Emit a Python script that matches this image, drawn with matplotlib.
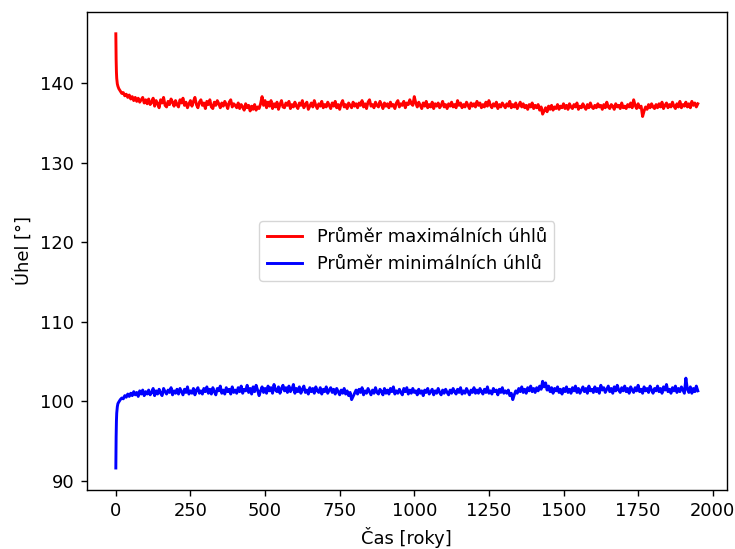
import numpy as np
import matplotlib.pyplot as plt

plt.rcParams["font.size"] = 12.9
plt.rcParams["axes.linewidth"] = 1.0
plt.rcParams["xtick.major.size"] = 4.5
plt.rcParams["ytick.major.size"] = 4.5
plt.rcParams["xtick.major.width"] = 1.0
plt.rcParams["ytick.major.width"] = 1.0
plt.rcParams["xtick.major.pad"] = 4.5
plt.rcParams["ytick.major.pad"] = 4.5
plt.rcParams["axes.labelpad"] = 5.0

# Time axis [years]
t_early = [0, 1, 2, 3, 5, 7]
t_main = list(range(10, 1951, 5))

# Average of maximal angles, one row = 100 years
max_early = [146.2, 143.0, 141.4, 140.6, 139.9, 139.6]
max_main = [
    139.3, 139.0, 138.7, 138.8, 138.4, 138.6, 138.2, 138.5, 138.0, 138.3, 137.8, 138.2, 137.7, 138.1, 137.6, 137.9, 138.2, 137.5, 137.9, 137.4,
    138.0, 137.3, 137.6, 138.1, 137.1, 137.8, 137.4, 136.9, 137.9, 137.5, 138.2, 137.2, 137.0, 137.7, 137.3, 138.0, 137.6, 137.1, 137.8, 137.3,
    137.0, 137.9, 137.5, 138.1, 137.2, 137.6, 136.9, 137.4, 137.8, 137.1, 137.7, 138.2, 137.3, 136.9, 137.6, 137.9, 137.2, 137.5, 136.8, 137.7,
    137.3, 137.9, 137.0, 136.8, 137.6, 137.2, 137.8, 137.4, 136.9, 137.5, 137.1, 137.7, 137.3, 136.8, 137.6, 137.9, 137.0, 137.4, 137.2, 136.9,
    137.5, 136.8, 137.3, 137.0, 136.6, 137.4, 136.9, 137.2, 136.5, 137.1, 136.7, 137.3, 136.6, 137.0, 136.8, 137.4, 138.3, 137.2, 137.8, 136.9,
    137.6, 137.1, 137.8, 136.8, 137.4, 137.0, 137.6, 136.7, 137.3, 137.8, 137.0, 136.9, 137.5, 137.2, 137.7, 136.8, 137.3, 137.0, 137.6, 137.1,
    136.8, 137.5, 137.2, 137.8, 136.9, 137.3, 137.6, 136.7, 137.1, 137.5, 137.0, 137.8, 137.2, 136.8, 137.4, 137.1, 137.7, 136.9, 137.3, 137.0,
    137.6, 137.2, 136.8, 137.5, 137.1, 137.7, 136.9, 137.3, 136.7, 137.4, 137.8, 137.0, 137.3, 136.8, 137.5, 137.2, 136.9, 137.6, 137.1, 137.4,
    136.9, 137.5, 137.2, 137.8, 137.0, 137.4, 136.8, 137.6, 137.9, 137.1, 137.3, 136.9, 137.6, 137.2, 137.0, 137.7, 137.3, 136.8, 137.5, 137.1,
    137.4, 136.9, 137.6, 137.1, 137.3, 136.8, 137.5, 137.8, 137.0, 137.4, 137.2, 137.7, 136.9, 137.5, 137.3, 137.9, 137.4, 137.2, 138.3, 137.5,
    137.0, 137.6, 137.2, 136.8, 137.5, 137.1, 137.7, 136.9, 137.3, 137.0, 137.6, 136.8, 137.4, 137.1, 137.5, 136.9, 137.2, 137.7, 137.0, 137.3,
    136.8, 137.4, 137.1, 137.6, 137.0, 137.3, 136.9, 137.8, 137.2, 137.5, 136.9, 137.3, 137.0, 137.6, 137.2, 136.8, 137.5, 137.1, 137.4, 137.0,
    137.7, 137.2, 137.5, 136.9, 137.3, 137.0, 137.6, 137.1, 137.8, 137.2, 136.9, 137.4, 137.1, 137.6, 136.8, 137.3, 137.0, 137.5, 137.2, 136.9,
    137.4, 137.1, 137.7, 136.9, 137.3, 137.0, 137.5, 136.8, 137.2, 137.6, 137.0, 137.4, 136.9, 137.2, 136.7, 137.3, 137.0, 137.5, 136.8, 137.2,
    136.9, 137.3, 136.6, 137.0, 136.1, 136.5, 136.9, 136.4, 137.1, 136.7, 137.2, 136.6, 137.0, 136.8, 137.3, 136.7, 137.1, 136.9, 137.4, 136.8,
    137.2, 136.7, 137.4, 137.0, 136.8, 137.3, 137.0, 137.5, 136.7, 137.1, 136.9, 137.4, 137.0, 136.7, 137.3, 136.9, 137.5, 137.0, 136.8, 137.2,
    136.9, 137.4, 137.0, 137.2, 136.7, 137.3, 136.9, 137.6, 137.0, 136.8, 137.3, 137.1, 136.7, 137.4, 137.0, 137.2, 136.8, 137.5, 136.9, 137.1,
    136.8, 137.3, 137.0, 137.5, 136.9, 137.9, 137.2, 136.8, 137.4, 136.9, 137.1, 135.8, 136.5, 137.0, 136.7, 137.3, 136.9, 137.4, 137.0, 136.8,
    137.3, 136.9, 137.4, 137.0, 137.6, 136.8, 137.2, 137.5, 136.9, 137.3, 137.0, 137.6, 137.1, 136.8, 137.4, 137.0, 137.7, 136.9, 137.3, 137.1,
    137.6, 137.0, 137.4, 136.9, 137.7, 137.2, 137.5, 137.0, 137.4,
]

# Average of minimal angles
min_early = [91.6, 95.5, 97.5, 98.5, 99.3, 99.7]
min_main = [
    99.9, 100.2, 100.4, 100.3, 100.7, 100.5, 100.9, 100.6, 101.0, 100.7, 101.2, 100.8, 101.1, 100.6, 101.3, 100.9, 101.4, 100.7, 101.2, 100.9,
    101.4, 100.8, 101.1, 101.6, 100.7, 101.3, 100.9, 101.5, 101.0, 100.7, 101.6, 101.2, 100.9, 101.4, 101.1, 101.7, 100.8, 101.3, 101.0, 101.5,
    100.9, 101.6, 101.2, 100.8, 101.5, 101.1, 101.8, 100.9, 101.3, 101.0, 101.6, 100.8, 101.4, 101.7, 101.0, 101.3, 100.9, 101.6, 101.2, 101.8,
    101.0, 101.5, 100.9, 101.7, 101.2, 100.8, 101.6, 101.3, 101.9, 101.0, 101.4, 100.9, 101.7, 101.2, 101.5, 100.9, 101.8, 101.1, 101.4, 101.0,
    101.7, 101.2, 101.9, 101.0, 101.5, 101.3, 102.0, 101.1, 101.6, 100.9, 101.8, 101.2, 102.0, 101.4, 100.7, 101.3, 101.8, 101.1, 101.6, 101.0,
    101.9, 101.3, 101.7, 101.0, 102.1, 101.4, 101.2, 101.8, 101.0, 101.6, 102.0, 101.3, 101.7, 101.1, 101.9, 101.2, 101.5, 102.1, 101.0, 101.6,
    101.2, 101.8, 101.0, 101.5, 101.9, 101.1, 101.4, 100.9, 101.7, 101.2, 101.6, 101.0, 101.8, 101.3, 101.1, 101.7, 100.9, 101.5, 101.2, 101.8,
    101.0, 101.4, 101.7, 101.1, 101.5, 100.9, 101.6, 101.2, 100.8, 101.4, 101.0, 101.6, 100.9, 101.3, 100.7, 101.1, 100.2, 100.6, 101.0, 101.4,
    100.9, 101.5, 101.1, 101.7, 100.8, 101.3, 101.0, 101.6, 101.2, 100.8, 101.4, 101.0, 101.7, 101.1, 100.9, 101.5, 101.2, 100.8, 101.6, 101.0,
    101.4, 100.9, 101.6, 101.2, 101.8, 100.9, 101.3, 101.0, 101.5, 101.1, 100.8, 101.6, 101.2, 101.7, 100.9, 101.4, 101.0, 101.6, 101.1, 101.3,
    100.8, 101.5, 101.0, 101.3, 100.7, 101.4, 101.1, 101.6, 100.9, 101.2, 101.5, 100.8, 101.3, 101.0, 101.6, 101.1, 100.8, 101.4, 101.0, 101.5,
    101.1, 100.8, 101.4, 101.0, 101.6, 101.2, 100.9, 101.5, 101.1, 101.7, 100.9, 101.3, 101.0, 101.6, 101.2, 100.8, 101.4, 101.1, 101.7, 101.0,
    101.4, 101.0, 101.6, 101.2, 100.9, 101.5, 101.1, 101.8, 101.0, 101.3, 100.9, 101.6, 101.2, 101.4, 100.8, 101.5, 101.1, 101.7, 101.0, 101.3,
    101.0, 101.4, 100.7, 101.0, 100.2, 100.8, 101.3, 101.0, 101.6, 101.2, 101.8, 101.1, 101.5, 101.0, 101.7, 101.3, 101.9, 101.2, 101.6, 101.1,
    101.7, 101.3, 101.9, 101.5, 102.5, 101.8, 102.3, 101.4, 101.9, 101.2, 101.7, 101.0, 101.6, 101.3, 101.8, 101.1, 101.5, 100.9, 101.6, 101.2,
    101.8, 101.1, 101.5, 101.0, 101.7, 101.3, 101.9, 101.1, 101.6, 101.0, 101.4, 101.8, 101.2, 101.6, 101.0, 101.9, 101.3, 101.5, 101.1, 101.8,
    101.2, 101.6, 101.0, 102.0, 101.4, 101.7, 101.1, 101.5, 101.9, 101.2, 101.6, 101.0, 101.8, 101.3, 102.0, 101.4, 101.1, 101.7, 101.3, 101.9,
    101.2, 101.6, 101.0, 101.8, 101.4, 101.1, 101.7, 101.3, 102.0, 101.2, 101.5, 101.0, 101.8, 101.3, 101.6, 101.1, 101.9, 101.4, 101.0, 101.6,
    101.3, 101.9, 101.2, 101.6, 101.0, 101.8, 101.4, 102.1, 101.2, 101.5, 101.0, 101.7, 101.3, 101.9, 101.1, 101.6, 101.2, 101.8, 101.4, 101.0,
    102.9, 101.5, 101.1, 101.8, 101.0, 101.6, 101.2, 101.9, 101.3,
]

t = np.array(t_early + t_main)
max_avg = np.array(max_early + max_main)
min_avg = np.array(min_early + min_main)

fig = plt.figure(figsize=(7.35, 5.49), dpi=100)
plt.subplots_adjust(left=0.118, right=0.989, bottom=0.108, top=0.978)

plt.plot(t, max_avg, color='red', lw=2.1, label="Průměr maximálních úhlů")
plt.plot(t, min_avg, color='blue', lw=2.1, label="Průměr minimálních úhlů")

plt.xlabel("Čas [roky]")
plt.ylabel("Úhel [°]")
plt.legend(loc='center')

plt.savefig("out.png", dpi=100)
